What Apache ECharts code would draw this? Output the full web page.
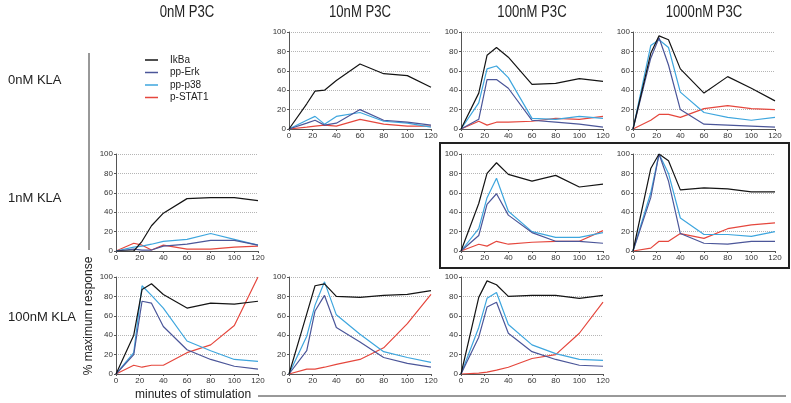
<!DOCTYPE html>
<html><head><meta charset="utf-8">
<script src="https://cdn.jsdelivr.net/npm/echarts@6.0.0/dist/echarts.min.js"></script>
<style>html,body{margin:0;padding:0;background:#fff}#c{width:791px;height:403px}</style>
</head><body><div id="c"></div>
<script>
// ---- data ----
const minutes = [0, 15, 22, 30, 40, 60, 80, 100, 120];
const seriesNames = ['IkBa', 'pp-Erk', 'pp-p38', 'p-STAT1'];
const colTitles = ['0nM P3C', '10nM P3C', '100nM P3C', '1000nM P3C'];
const rowTitles = ['0nM KLA', '1nM KLA', '100nM KLA'];
const xTicks = [0, 20, 40, 60, 80, 100, 120];
const yTicks = [0, 20, 40, 60, 80, 100];
const yTitle = '% maximum response';
const xTitle = 'minutes of stimulation';

// 0nM KLA, 10nM P3C
const k0p10_IkBa  = [0, 26, 39, 40, 50, 67, 57, 55, 43];
const k0p10_Erk   = [0, 6, 9, 4, 6, 20, 9, 7, 4];
const k0p10_p38   = [0, 9, 13, 5, 13, 17, 8, 6, 2];
const k0p10_STAT1 = [0, 2, 3, 4, 3, 10, 5, 3, 3];
// 0nM KLA, 100nM P3C
const k0p100_IkBa  = [0, 37, 76, 84, 74, 46, 47, 52, 49];
const k0p100_Erk   = [0, 10, 51, 51, 42, 9, 7, 5, 2];
const k0p100_p38   = [0, 27, 62, 65, 53, 11, 10, 13, 11];
const k0p100_STAT1 = [0, 8, 4, 7, 7, 8, 11, 10, 13];
// 0nM KLA, 1000nM P3C
const k0p1000_IkBa  = [0, 78, 96, 92, 62, 37, 54, 42, 29];
const k0p1000_Erk   = [0, 73, 94, 66, 20, 5, 4, 3, 2];
const k0p1000_p38   = [0, 86, 92, 84, 38, 17, 12, 9, 12];
const k0p1000_STAT1 = [0, 9, 15, 15, 12, 21, 24, 21, 20];
// 1nM KLA, 0nM P3C
const k1p0_IkBa  = [0, 0, 10, 26, 39, 54, 55, 55, 52];
const k1p0_Erk   = [0, 2, 1, 1, 5, 7, 11, 11, 6];
const k1p0_p38   = [0, 4, 5, 7, 10, 12, 18, 12, 6];
const k1p0_STAT1 = [0, 8, 6, 1, 6, 2, 2, 4, 5];
// 1nM KLA, 100nM P3C
const k1p100_IkBa  = [0, 49, 80, 91, 79, 72, 78, 66, 69];
const k1p100_Erk   = [0, 16, 48, 59, 37, 19, 10, 10, 8];
const k1p100_p38   = [0, 23, 55, 75, 41, 20, 14, 14, 19];
const k1p100_STAT1 = [0, 7, 5, 10, 7, 9, 10, 10, 21];
// 1nM KLA, 1000nM P3C
const k1p1000_IkBa  = [0, 85, 100, 93, 63, 65, 64, 61, 61];
const k1p1000_Erk   = [0, 55, 100, 72, 18, 8, 7, 10, 10];
const k1p1000_p38   = [0, 60, 100, 80, 34, 17, 17, 15, 20];
const k1p1000_STAT1 = [0, 3, 10, 10, 18, 13, 23, 27, 29];
// 100nM KLA, 0nM P3C
const k100p0_IkBa  = [0, 40, 87, 93, 82, 68, 73, 72, 75];
const k100p0_Erk   = [0, 20, 75, 73, 49, 25, 15, 8, 5];
const k100p0_p38   = [0, 22, 91, 81, 68, 34, 24, 15, 13];
const k100p0_STAT1 = [0, 9, 7, 9, 9, 22, 30, 50, 100];
// 100nM KLA, 10nM P3C
const k100p10_IkBa  = [0, 62, 91, 93, 80, 79, 81, 82, 86];
const k100p10_Erk   = [0, 24, 65, 81, 48, 33, 17, 11, 7];
const k100p10_p38   = [0, 39, 71, 95, 61, 41, 23, 17, 12];
const k100p10_STAT1 = [0, 5, 5, 7, 10, 15, 27, 52, 82];
// 100nM KLA, 100nM P3C
const k100p100_IkBa  = [0, 79, 96, 92, 80, 81, 81, 78, 81];
const k100p100_Erk   = [0, 38, 69, 74, 42, 23, 15, 9, 8];
const k100p100_p38   = [0, 48, 78, 84, 51, 30, 21, 15, 14];
const k100p100_STAT1 = [0, 1, 2, 4, 7, 16, 20, 42, 74];

const panels = [
  {row: 0, col: 1, v: [k0p10_IkBa, k0p10_Erk, k0p10_p38, k0p10_STAT1]},
  {row: 0, col: 2, v: [k0p100_IkBa, k0p100_Erk, k0p100_p38, k0p100_STAT1]},
  {row: 0, col: 3, v: [k0p1000_IkBa, k0p1000_Erk, k0p1000_p38, k0p1000_STAT1]},
  {row: 1, col: 0, v: [k1p0_IkBa, k1p0_Erk, k1p0_p38, k1p0_STAT1]},
  {row: 1, col: 2, v: [k1p100_IkBa, k1p100_Erk, k1p100_p38, k1p100_STAT1]},
  {row: 1, col: 3, v: [k1p1000_IkBa, k1p1000_Erk, k1p1000_p38, k1p1000_STAT1]},
  {row: 2, col: 0, v: [k100p0_IkBa, k100p0_Erk, k100p0_p38, k100p0_STAT1]},
  {row: 2, col: 1, v: [k100p10_IkBa, k100p10_Erk, k100p10_p38, k100p10_STAT1]},
  {row: 2, col: 2, v: [k100p100_IkBa, k100p100_Erk, k100p100_p38, k100p100_STAT1]}
];

// ---- layout / style ----
const colX = [116, 289, 461, 633];
const rowY = [32, 154, 277];
const W = 142, H = 97;
const colors = ['#141414', '#4b5699', '#3ea6de', '#e5473d'];
const FONT = 'Liberation Sans, Arial, sans-serif';

const chart = echarts.init(document.getElementById('c'), null, {renderer: 'canvas'});
const grid = [], xAxis = [], yAxis = [], series = [];
panels.forEach((p, i) => {
  grid.push({left: colX[p.col], top: rowY[p.row], width: W, height: H, containLabel: false});
  xAxis.push({
    type: 'value', gridIndex: i, min: xTicks[0], max: xTicks[xTicks.length - 1],
    interval: xTicks[1] - xTicks[0],
    axisLine: {show: true, onZero: false, lineStyle: {color: '#555', width: 1}},
    axisTick: {show: true, length: 2, lineStyle: {color: '#555'}},
    axisLabel: {fontSize: 8, color: '#333', margin: 3, fontFamily: FONT},
    splitLine: {show: false}
  });
  yAxis.push({
    type: 'value', gridIndex: i, min: yTicks[0], max: yTicks[yTicks.length - 1],
    interval: yTicks[1] - yTicks[0],
    axisLine: {show: true, lineStyle: {color: '#555', width: 1}},
    axisTick: {show: true, length: 2, lineStyle: {color: '#555'}},
    axisLabel: {fontSize: 8, color: '#333', margin: 3, fontFamily: FONT},
    splitLine: {show: true, lineStyle: {color: '#b5b5b5', type: 'dotted', width: 1}}
  });
  [3, 2, 1, 0].forEach(k => {
    series.push({
      type: 'line', name: seriesNames[k], xAxisIndex: i, yAxisIndex: i,
      data: minutes.map((m, j) => [m, p.v[k][j]]),
      symbol: 'none', showSymbol: false, silent: true,
      lineStyle: {width: 1.2, color: colors[k]}, itemStyle: {color: colors[k]},
      z: 3 + (3 - k)
    });
  });
});

const graphic = [];
colTitles.forEach((t, c) => {
  graphic.push({type: 'text', x: colX[c] + W / 2, y: 13, scaleX: 0.82,
    style: {text: t, font: '16px ' + FONT, fill: '#222', textAlign: 'center', textVerticalAlign: 'middle'}});
});
const rowLabelY = [80, 198, 317];
rowTitles.forEach((t, r) => {
  graphic.push({type: 'text', x: 8, y: rowLabelY[r],
    style: {text: t, font: '13px ' + FONT, fill: '#222', textAlign: 'left', textVerticalAlign: 'middle'}});
});
// y-axis title with leader line
graphic.push({type: 'line', shape: {x1: 89, y1: 53, x2: 89, y2: 250}, style: {stroke: '#333', lineWidth: 1}});
graphic.push({type: 'text', x: 89, y: 316, rotation: Math.PI / 2,
  style: {text: yTitle, font: '12px ' + FONT, fill: '#222', textAlign: 'center', textVerticalAlign: 'middle'}});
// x-axis title with leader line
graphic.push({type: 'text', x: 135, y: 395,
  style: {text: xTitle, font: '12px ' + FONT, fill: '#222', textAlign: 'left', textVerticalAlign: 'middle'}});
graphic.push({type: 'line', shape: {x1: 258, y1: 396, x2: 786, y2: 396}, style: {stroke: '#333', lineWidth: 1}});
// highlight box
graphic.push({type: 'rect', shape: {x: 440, y: 143, width: 349, height: 125},
  style: {fill: 'none', stroke: '#222', lineWidth: 2}});

chart.setOption({
  animation: false,
  backgroundColor: '#fff',
  grid, xAxis, yAxis, series, graphic,
  legend: {
    data: seriesNames, orient: 'vertical', left: 140, top: 49,
    icon: 'rect', itemWidth: 13, itemHeight: 1.5, itemGap: 0.5,
    selectedMode: false,
    textStyle: {fontSize: 10, color: '#222', fontFamily: FONT, padding: [0, 0, 0, 7], lineHeight: 12}
  }
});
</script>
</body></html>
